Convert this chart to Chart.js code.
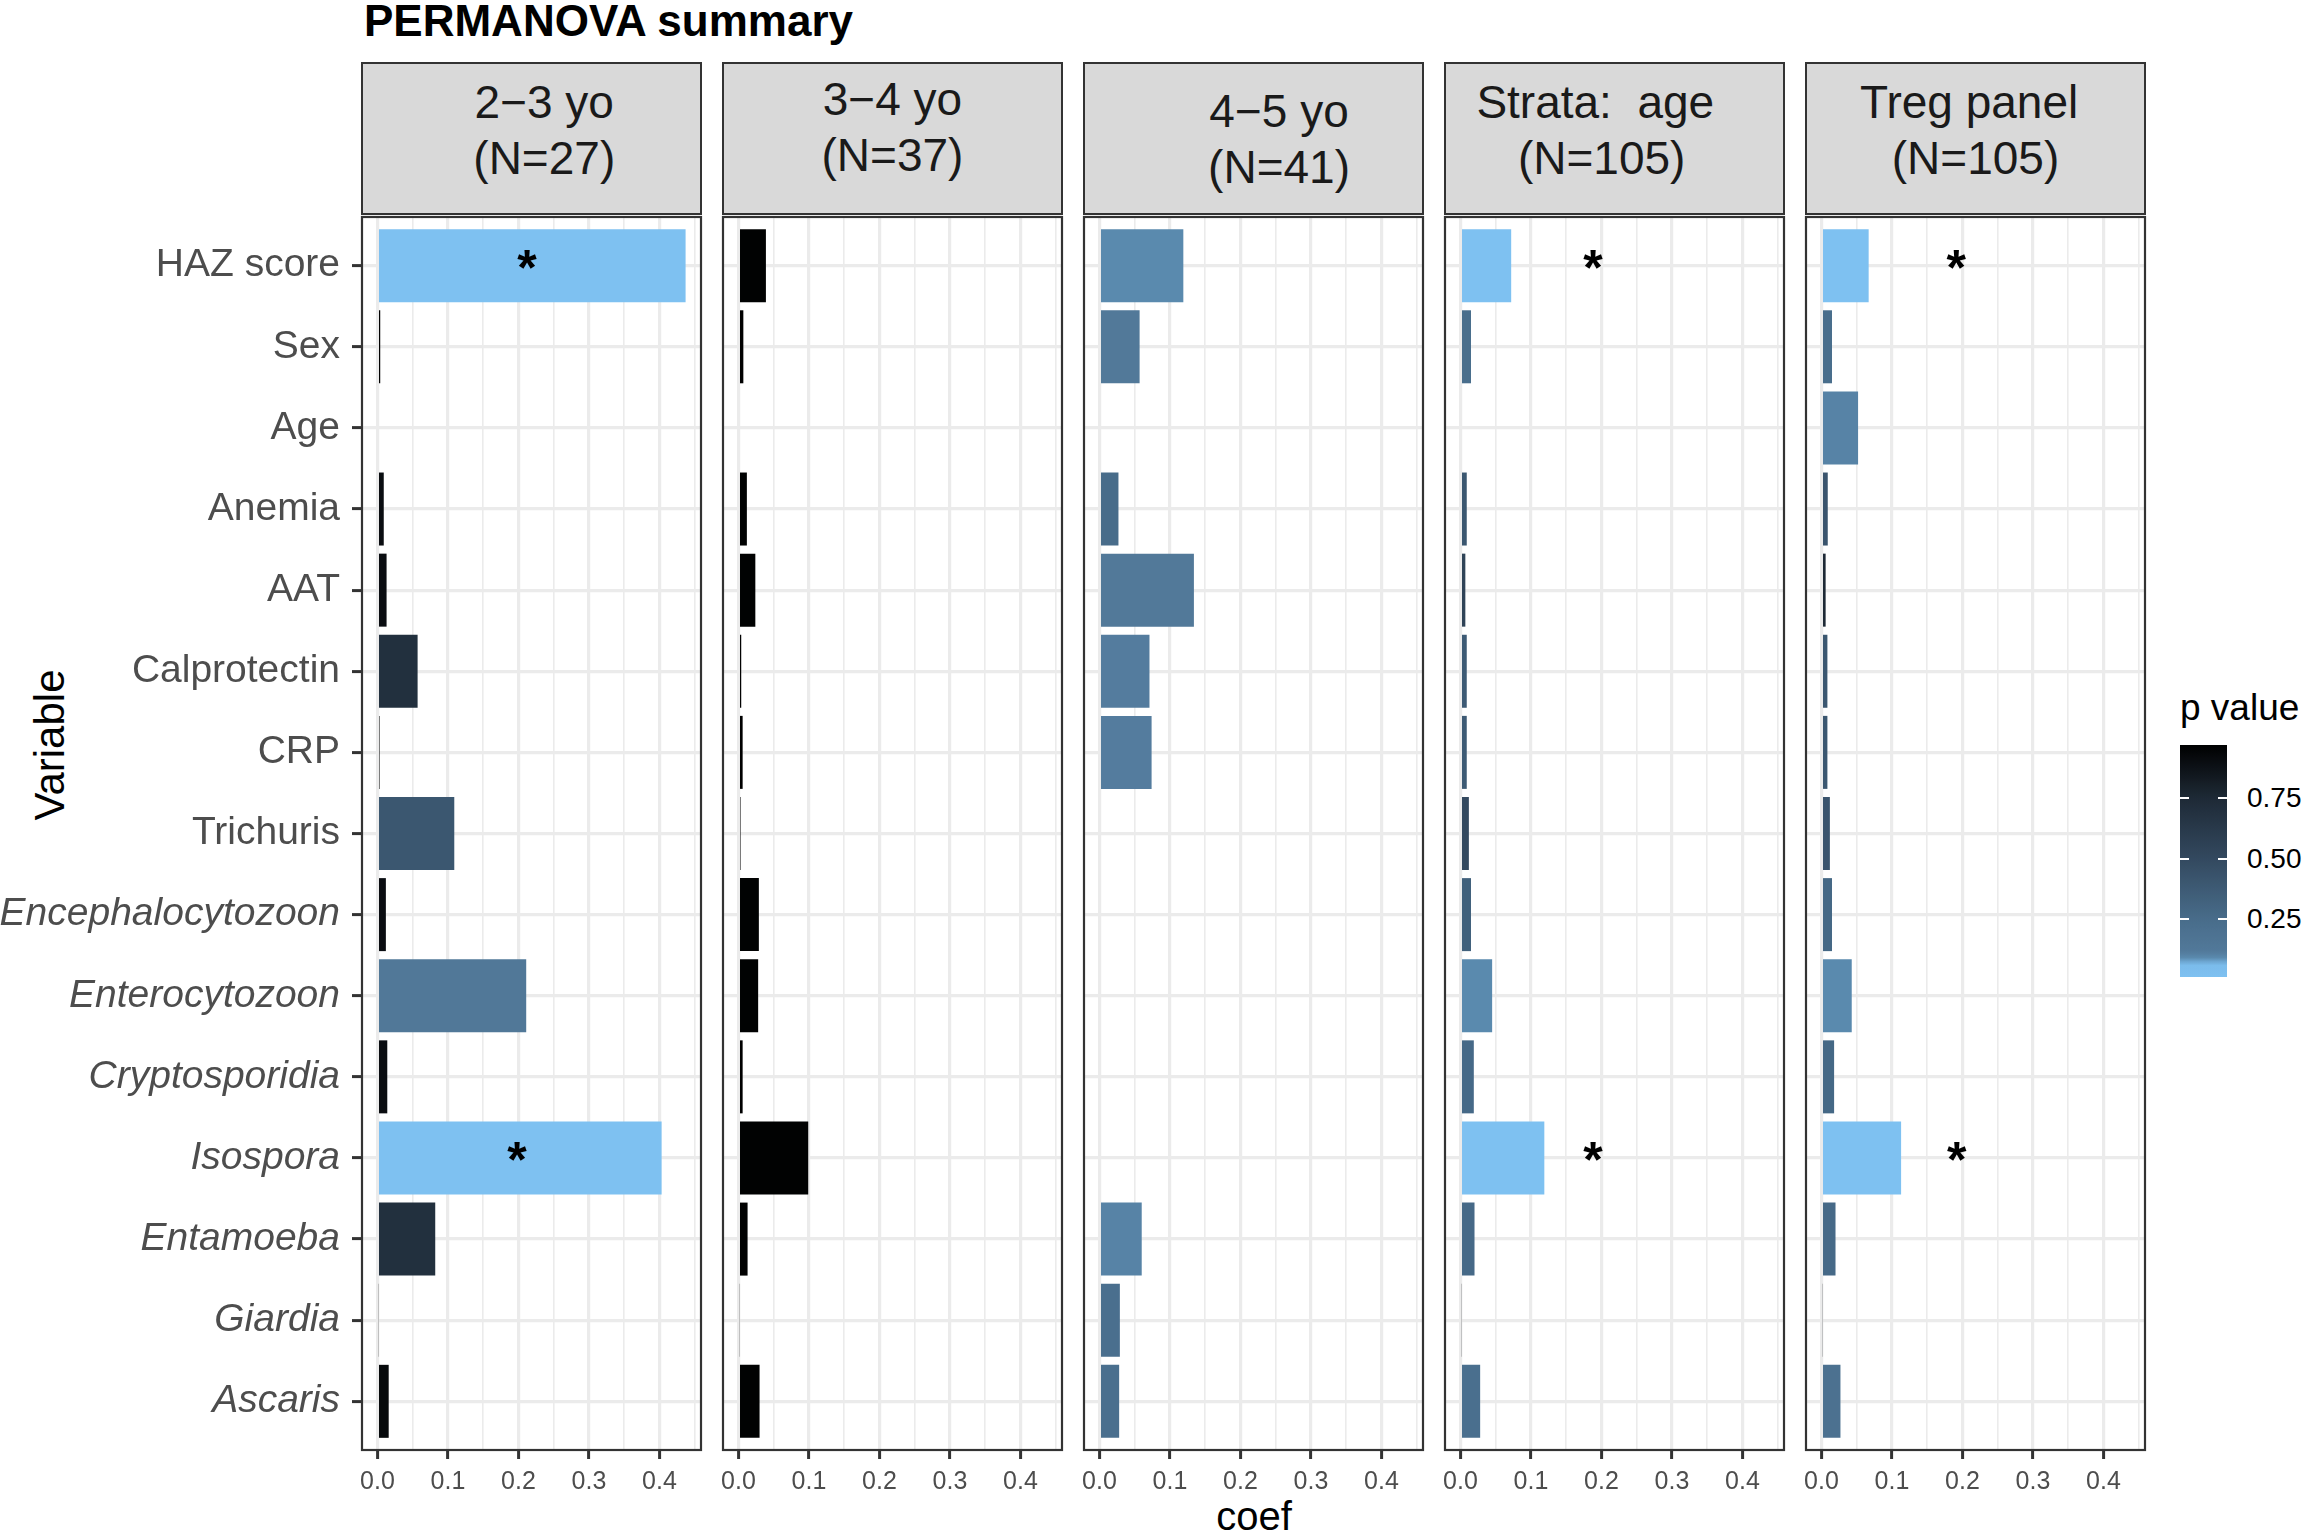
<!DOCTYPE html>
<html>
<head>
<meta charset="utf-8">
<script src="https://cdn.jsdelivr.net/npm/chart.js@4.4.1/dist/chart.umd.min.js"></script>
<style>
  html, body { margin: 0; padding: 0; background: #fff; }
  #page { position: relative; width: 2303px; height: 1530px; overflow: hidden;
          font-family: 'Liberation Sans', Arial, Helvetica, sans-serif; }
  #page canvas { position: absolute; }
  .txt { position: absolute; white-space: pre; }
  .strip { position: absolute; box-sizing: border-box; background: #d9d9d9;
           border: 2.2px solid #333333; text-align: center; color: #1a1a1a;
           font-size: 46px; line-height: 56px; white-space: pre; }
</style>
</head>
<body>
<div id="page">
  <div class="txt" id="title" style="left:364px; top:-5px; font-size:44px; font-weight:bold; line-height:52px; color:#000;">PERMANOVA summary</div>
  <div class="txt" id="ytitle" style="left:50px; top:745px; font-size:42px; color:#000; transform:translate(-50%,-50%) rotate(-90deg);">Variable</div>
  <div class="txt" id="xtitle" style="left:1254px; top:1516px; font-size:40px; color:#000; transform:translate(-50%,-50%);">coef</div>
</div>
<script>
// --- data ---
const variables = ['HAZ score', 'Sex', 'Age', 'Anemia', 'AAT', 'Calprotectin', 'CRP', 'Trichuris',
  'Encephalocytozoon', 'Enterocytozoon', 'Cryptosporidia', 'Isospora', 'Entamoeba', 'Giardia', 'Ascaris']
const italicVariables = ['Encephalocytozoon', 'Enterocytozoon', 'Cryptosporidia', 'Isospora',
  'Entamoeba', 'Giardia', 'Ascaris']

const stripLabels = [
  ['  2−3 yo', '  (N=27)'],
  ['3−4 yo', '(N=37)'],
  ['    4−5 yo', '    (N=41)'],
  ['Strata:  age   ', '(N=105)  '],
  ['Treg panel ', '(N=105)'],
]

const coef23 = [0.437, 0.004, null, 0.009, 0.013, 0.057, 0.003, 0.109, 0.012, 0.211, 0.014, 0.403, 0.082, 0.002, 0.016]
const pval23 = [0.01, 0.97, null, 0.9, 0.9, 0.7, 0.95, 0.4, 0.9, 0.13, 0.9, 0.01, 0.7, 0.95, 0.92]

const coef34 = [0.039, 0.007, null, 0.012, 0.024, 0.004, 0.006, 0.003, 0.029, 0.028, 0.006, 0.099, 0.013, 0.002, 0.030]
const pval34 = [0.96, 0.97, null, 0.96, 0.96, 0.97, 0.97, 0.97, 0.96, 0.96, 0.97, 0.96, 0.96, 0.97, 0.96]

const coef45 = [0.119, 0.057, null, 0.027, 0.134, 0.071, 0.074, null, null, null, null, null, 0.060, 0.029, 0.028]
const pval45 = [0.09, 0.12, null, 0.25, 0.12, 0.11, 0.11, null, null, null, null, null, 0.1, 0.22, 0.22]

const coefStrata = [0.072, 0.015, null, 0.009, 0.007, 0.009, 0.009, 0.012, 0.015, 0.045, 0.019, 0.119, 0.020, 0.002, 0.028]
const pvalStrata = [0.01, 0.23, null, 0.4, 0.55, 0.38, 0.38, 0.5, 0.33, 0.09, 0.27, 0.01, 0.27, 0.9, 0.22]

const coefTreg = [0.067, 0.015, 0.052, 0.009, 0.006, 0.0085, 0.0085, 0.012, 0.015, 0.043, 0.018, 0.113, 0.020, 0.002, 0.027]
const pvalTreg = [0.01, 0.23, 0.1, 0.42, 0.75, 0.4, 0.4, 0.42, 0.28, 0.09, 0.28, 0.01, 0.27, 0.9, 0.2]

// significance stars: variable + coef position of the label
const starVars23 = ['HAZ score', 'Isospora']
const starPos23 = [0.212, 0.198]
const starVarsStrata = ['HAZ score', 'Isospora']
const starPosStrata = [0.188, 0.188]
const starVarsTreg = ['HAZ score', 'Isospora']
const starPosTreg = [0.191, 0.192]

const coefBreaks = [0, 0.1, 0.2, 0.3, 0.4]
const legendBreaks = [0.25, 0.5, 0.75]

const panels = [
  {coef: coef23, p: pval23, starVars: starVars23, starPos: starPos23},
  {coef: coef34, p: pval34, starVars: [], starPos: []},
  {coef: coef45, p: pval45, starVars: [], starPos: []},
  {coef: coefStrata, p: pvalStrata, starVars: starVarsStrata, starPos: starPosStrata},
  {coef: coefTreg, p: pvalTreg, starVars: starVarsTreg, starPos: starPosTreg},
]

// --- layout (px) ---
const PANEL_LEFT = 362
const PANEL_PITCH = 361
const PANEL_W = 339
const PANEL_TOP = 217
const PANEL_H = 1233
const TOP_PAD = 4
const X_AXIS_H = 68
const FONT = "'Liberation Sans', Arial, Helvetica, sans-serif"
const stripPadTop = [10, 7, 19, 10, 10]

// fill scale for p value
const pStops = [
  [0.0, '#7fc2f2'], [0.065, '#7bbbea'], [0.085, '#5c8db2'], [0.115, '#52799a'],
  [0.25, '#486c8a'], [0.5, '#33495f'], [0.75, '#1e2a36'], [0.97, '#000000'],
]

const hexToRgb = (h) => [1, 3, 5].map(i => parseInt(h.slice(i, i + 2), 16))

const pColor = (p) => {
  if (p === null) return 'rgba(0,0,0,0)'
  if (p <= pStops[0][0]) return pStops[0][1]
  for (let i = 1; i < pStops.length; i++) {
    const [p1, c1] = pStops[i]
    const [p0, c0] = pStops[i - 1]
    if (p <= p1) {
      const t = (p - p0) / (p1 - p0)
      const a = hexToRgb(c0), b = hexToRgb(c1)
      const rgb = a.map((v, k) => Math.round(v + (b[k] - v) * t))
      return `rgb(${rgb.join(',')})`
    }
  }
  return pStops[pStops.length - 1][1]
}

const allCoef = panels.flatMap(d => d.coef).filter(v => v !== null)
const coefMax = Math.max(...allCoef)
const xMin = -0.05 * coefMax
const xMax = 1.05 * coefMax

// major breaks plus minor ones half way between them
const halfStep = (coefBreaks[1] - coefBreaks[0]) / 2
const xTickValues = coefBreaks.flatMap(b => [b, b + halfStep]).filter(v => v <= xMax)
const isMajor = (v) => coefBreaks.some(b => Math.abs(b - v) < 1e-6)

const panelDecor = {
  id: 'panelDecor',
  afterDatasetsDraw(chart, args, opts) {
    const {ctx, scales} = chart
    ctx.save()
    ctx.fillStyle = '#000'
    ctx.font = `bold 50px ${FONT}`
    ctx.textAlign = 'center'
    ctx.textBaseline = 'alphabetic'
    opts.starVars.forEach((name, k) => {
      const x = scales.x.getPixelForValue(opts.starPos[k])
      const y = scales.y.getPixelForValue(variables.indexOf(name))
      ctx.fillText('*', x, y + 19)
    })
    ctx.restore()
  },
  afterDraw(chart) {
    const {ctx, chartArea: a} = chart
    ctx.save()
    ctx.strokeStyle = '#333333'
    ctx.lineWidth = 2.2
    ctx.strokeRect(a.left, a.top, a.right - a.left, a.bottom - a.top)
    ctx.restore()
  }
}

const page = document.getElementById('page')

const makePanel = (idx, panel) => {
  const left = PANEL_LEFT + idx * PANEL_PITCH
  const first = idx === 0
  const padL = first ? left : 24
  const padR = 16

  const canvas = document.createElement('canvas')
  canvas.width = padL + PANEL_W + padR
  canvas.height = TOP_PAD + PANEL_H + X_AXIS_H
  canvas.style.left = (left - padL) + 'px'
  canvas.style.top = (PANEL_TOP - TOP_PAD) + 'px'
  page.appendChild(canvas)

  new Chart(canvas, {
    type: 'bar',
    data: {
      datasets: [{
        data: panel.coef.map((v, i) => ({x: v, y: i})),
        backgroundColor: panel.p.map(pColor),
        borderWidth: 0,
        barPercentage: 0.9,
        categoryPercentage: 1,
      }]
    },
    options: {
      indexAxis: 'y',
      responsive: false,
      animation: false,
      layout: {padding: {left: first ? 0 : padL, right: padR, top: TOP_PAD, bottom: 0}},
      plugins: {
        legend: {display: false},
        tooltip: {enabled: false},
        panelDecor: {starVars: panel.starVars, starPos: panel.starPos},
      },
      scales: {
        x: {
          type: 'linear',
          bounds: 'data',
          min: xMin,
          max: xMax,
          offset: false,
          border: {display: false},
          grid: {
            offset: false,
            color: '#ebebeb',
            lineWidth: (c) => isMajor(c.tick.value) ? 3.2 : 1.6,
            drawTicks: true,
            tickLength: 9,
            tickWidth: 3,
            tickColor: (c) => isMajor(c.tick.value) ? '#333333' : 'rgba(0,0,0,0)',
          },
          ticks: {
            autoSkip: false,
            maxRotation: 0,
            padding: 8,
            color: '#4d4d4d',
            font: {family: FONT, size: 25},
            callback: (v) => isMajor(v) ? v.toFixed(1) : '',
          },
          afterBuildTicks: (s) => { s.ticks = xTickValues.map(v => ({value: v})) },
          afterFit: (s) => { s.height = X_AXIS_H },
        },
        y: {
          type: 'linear',
          bounds: 'data',
          min: -0.6,
          max: variables.length - 0.4,
          reverse: true,
          offset: false,
          border: {display: false},
          grid: {
            offset: false,
            color: '#ebebeb',
            lineWidth: 3.2,
            drawTicks: first,
            tickLength: 10,
            tickWidth: 3,
            tickColor: '#333333',
          },
          ticks: {
            display: first,
            autoSkip: false,
            padding: 12,
            color: '#4d4d4d',
            font: (c) => ({
              family: FONT,
              size: 39,
              style: italicVariables.includes(variables[c.tick ? c.tick.value : c.index]) ? 'italic' : 'normal',
            }),
            callback: (v) => variables[v] ?? '',
          },
          afterBuildTicks: (s) => { s.ticks = variables.map((_, i) => ({value: i})) },
          afterFit: (s) => {
            s.width = first ? left : 0
            s.paddingTop = 0
            s.paddingBottom = 0
          },
        },
      },
    },
    plugins: [panelDecor],
  })

  const strip = document.createElement('div')
  strip.className = 'strip'
  strip.style.left = (left - 1.1) + 'px'
  strip.style.top = '62px'
  strip.style.width = (PANEL_W + 2.2) + 'px'
  strip.style.height = '153px'
  strip.style.paddingTop = stripPadTop[idx] + 'px'
  strip.textContent = stripLabels[idx].join('\n')
  page.appendChild(strip)
}

panels.forEach((panel, idx) => makePanel(idx, panel))

// --- colourbar legend ---
const allP = panels.flatMap(d => d.p).filter(v => v !== null)
const pMin = Math.min(...allP)
const pMax = Math.max(...allP)
const BAR_LEFT = 2180, BAR_TOP = 745, BAR_W = 47, BAR_H = 232
const pToY = (p) => BAR_TOP + BAR_H * (pMax - p) / (pMax - pMin)

const legendTitle = document.createElement('div')
legendTitle.className = 'txt'
legendTitle.textContent = 'p value'
Object.assign(legendTitle.style, {left: BAR_LEFT + 'px', top: '686px', fontSize: '37px', lineHeight: '44px', color: '#000'})
page.appendChild(legendTitle)

const steps = []
for (let k = 0; k <= 60; k++) {
  const p = pMin + (pMax - pMin) * k / 60
  steps.push(`${pColor(p)} ${(k / 60 * 100).toFixed(2)}%`)
}
const bar = document.createElement('div')
Object.assign(bar.style, {
  position: 'absolute', left: BAR_LEFT + 'px', top: BAR_TOP + 'px',
  width: BAR_W + 'px', height: BAR_H + 'px',
  background: `linear-gradient(to top, ${steps.join(', ')})`,
})
page.appendChild(bar)

legendBreaks.forEach(b => {
  const y = pToY(b)
  ;[BAR_LEFT, BAR_LEFT + BAR_W - 9].forEach(x => {
    const t = document.createElement('div')
    Object.assign(t.style, {position: 'absolute', left: x + 'px', top: (y - 1) + 'px', width: '9px', height: '2px', background: '#fff'})
    page.appendChild(t)
  })
  const lab = document.createElement('div')
  lab.className = 'txt'
  lab.textContent = b.toFixed(2)
  Object.assign(lab.style, {left: (BAR_LEFT + BAR_W + 20) + 'px', top: (y - 17) + 'px', fontSize: '28px', lineHeight: '34px', color: '#000'})
  page.appendChild(lab)
})
</script>
</body>
</html>
